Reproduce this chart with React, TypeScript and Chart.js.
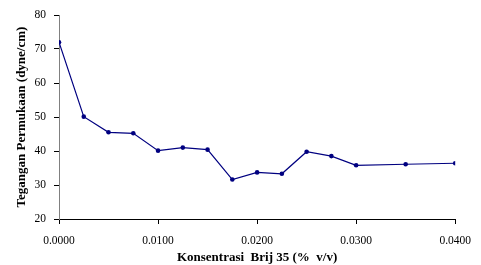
import React, { useEffect, useRef } from "react";
import { Chart, registerables } from "chart.js";

Chart.register(...registerables);

const concentrations = [0, 0.0025, 0.005, 0.0075, 0.01, 0.0125, 0.015, 0.0175, 0.02, 0.0225, 0.025, 0.0275, 0.03, 0.035, 0.04];
const tension = [72, 50.1, 45.5, 45.2, 40.1, 41.0, 40.4, 31.6, 33.7, 33.3, 39.8, 38.5, 35.8, 36.1, 36.4];
const xTitle = "Konsentrasi  Brij 35 (%  v/v)";
const yTitle = "Tegangan Permukaan (dyne/cm)";

export default function App() {
  const ref = useRef<HTMLCanvasElement>(null);
  useEffect(() => {
    const ctx = ref.current!;
    const chart = new Chart(ctx, {
      type: "line",
      data: {
        datasets: [
          {
            data: concentrations.map((x, i) => ({ x, y: tension[i] })),
            borderColor: "#000080",
            backgroundColor: "#000080",
            borderWidth: 1.2,
            pointRadius: 2.3,
            pointBorderWidth: 0,
            tension: 0,
          },
        ],
      },
      options: {
        responsive: false,
        animation: false,
        plugins: { legend: { display: false }, tooltip: { enabled: false } },
        layout: { padding: { top: 15, right: 24, left: 0, bottom: 0 } },
        scales: {
          x: {
            type: "linear",
            min: 0,
            max: 0.04,
            ticks: {
              stepSize: 0.01,
              callback: (v: any) => Number(v).toFixed(4),
              font: { family: "Liberation Serif", size: 11.5 },
              color: "#000",
              padding: 10,
              maxRotation: 0,
            },
            grid: { drawOnChartArea: false, drawTicks: true, tickLength: 5, color: "#000" },
            border: { display: true, color: "#000", width: 1 },
            title: {
              display: true,
              text: xTitle,
              font: { family: "Liberation Serif", size: 13, weight: "bold" },
              color: "#000",
              padding: { top: 4, bottom: 0 },
            },
            afterFit: (s: any) => { s.height = 46; },
          },
          y: {
            min: 20,
            max: 80,
            ticks: {
              stepSize: 10,
              font: { family: "Liberation Serif", size: 11.5 },
              color: "#000",
              padding: 8,
            },
            grid: { drawOnChartArea: false, drawTicks: true, tickLength: 5, color: "#000" },
            border: { display: true, color: "#808080", width: 1 },
            title: {
              display: true,
              text: yTitle,
              font: { family: "Liberation Serif", size: 13, weight: "bold" },
              color: "#000",
              padding: { top: 14, bottom: 2 },
            },
            afterFit: (s: any) => { s.width = 59; },
          },
        },
      },
    });
    return () => chart.destroy();
  }, []);
  return (
    <div style={{ position: "fixed", left: 0, top: 0, width: 481, height: 265, background: "#fff" }}>
      <canvas ref={ref} width={481} height={265} style={{ width: 481, height: 265 }} />
    </div>
  );
}
